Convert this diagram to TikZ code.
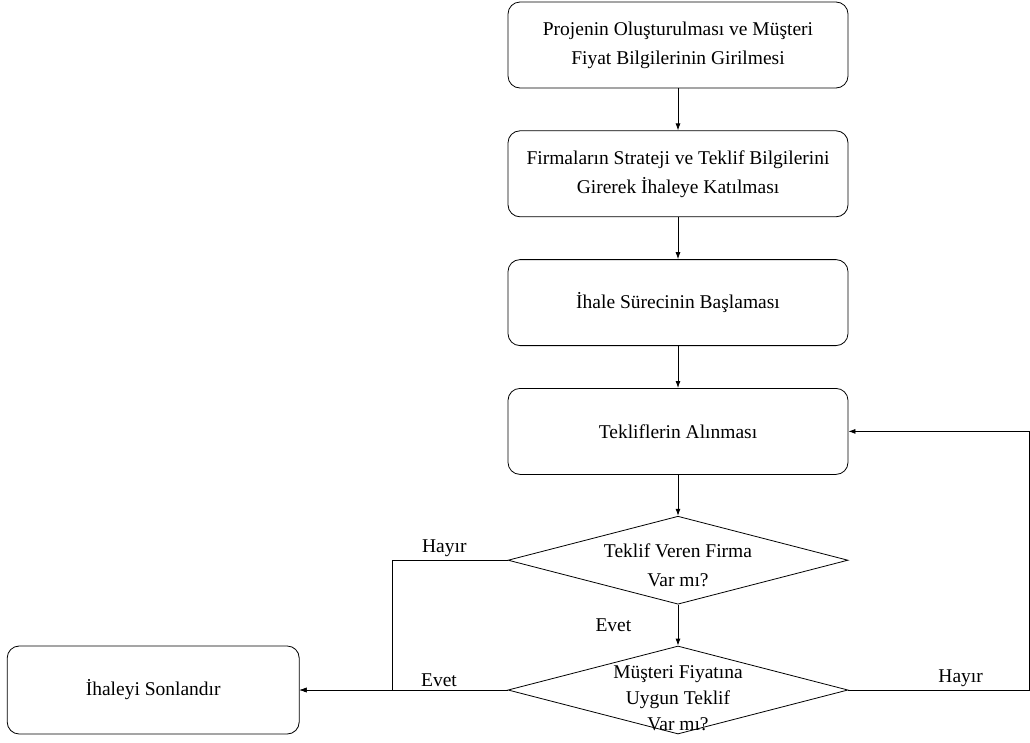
\documentclass[tikz,border=0pt]{standalone}
\usepackage{fontspec}
\setmainfont{Liberation Serif}
\usepackage{tikz}
\usetikzlibrary{positioning,shapes.geometric,arrows.meta}

\begin{document}
\begin{tikzpicture}[
  x=1pt, y=-1pt,
  font=\fontsize{19.5pt}{29pt}\selectfont,
  box/.style={draw, rounded corners=12pt, align=center, minimum width=340pt, minimum height=86pt, inner sep=3pt},
  dec/.style={draw, diamond, minimum width=340pt, minimum height=88pt, inner sep=0pt},
  arr/.style={-{Latex[length=7pt,width=5pt]}, line width=0.8pt},
  every node/.append style={line width=0.8pt},
  node distance=42pt and 208pt,
]
\useasboundingbox (0,0) rectangle (1030,742);
% main steps
\node[box] (proje) at (678,45) {Projenin Oluşturulması ve Müşteri\\Fiyat Bilgilerinin Girilmesi};
\node[box, below=of proje] (firma) {Firmaların Strateji ve Teklif Bilgilerini\\Girerek İhaleye Katılması};
\node[box, below=of firma] (baslama) {İhale Sürecinin Başlaması};
\node[box, below=of baslama] (teklif) {Tekliflerin Alınması};
% decisions
\node[dec, below=41pt of teklif, label={[align=center, yshift=-5pt]center:Teklif Veren Firma\\Var mı?}] (varmi) {};
\node[dec, below=41pt of varmi, label={[align=center, yshift=-8pt, font=\fontsize{19.5pt}{26pt}\selectfont]center:Müşteri Fiyatına\\Uygun Teklif\\Var mı?}] (uygun) {};
% end
\node[box, left=of uygun, minimum width=292pt, minimum height=88pt] (son) {İhaleyi Sonlandır};
% arrows
\draw[arr] (proje) -- (firma); \draw[arr] (firma) -- (baslama);
\draw[arr] (baslama) -- (teklif); \draw[arr] (teklif) -- (varmi);
\draw[arr] (varmi) -- node[left=43pt]{Evet} (uygun);
\draw[arr] (varmi.west) -- node[above, pos=0.55]{Hayır} ++(-115,0) |- (son.east);
\draw[arr] (uygun.west) -- node[above, pos=0.33]{Evet} (son.east);
\draw[arr] (uygun.east) -- node[above, pos=0.62]{Hayır} ++(181,0) |- (teklif.east);
\end{tikzpicture}
\end{document}
